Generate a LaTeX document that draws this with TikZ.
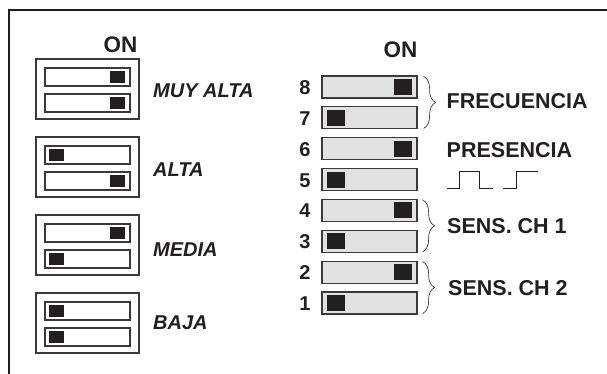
\documentclass[tikz,border=0pt]{standalone}
\usepackage{fontspec}
\setmainfont{Liberation Sans}
\usetikzlibrary{decorations.pathreplacing}
\definecolor{ink}{HTML}{231F20}
\definecolor{edgegray}{HTML}{3A3A3A}
\definecolor{slot}{HTML}{E2E2E2}
\begin{document}
\begin{tikzpicture}[x=1pt,y=-1pt,
  lbl/.style={font=\fontsize{21.5}{21.5}\selectfont\bfseries, text=ink, inner sep=0pt, anchor=base west},
  onlbl/.style={lbl, font=\fontsize{22.5}{22.5}\selectfont\bfseries, anchor=base},
  ilbl/.style={lbl, font=\fontsize{20}{20}\selectfont\bfseries\itshape},
  num/.style={font=\fontsize{20}{20}\selectfont\bfseries, text=ink, inner sep=0pt, anchor=base},
  lbox/.style={draw=edgegray, line width=1.2pt, fill=white, minimum width=103pt, minimum height=60pt, inner sep=0pt},
  lsw/.style={draw=edgegray, line width=1.2pt, fill=white, minimum width=85pt, minimum height=18pt, inner sep=0pt},
  lknob/.style={fill=ink, minimum width=15pt, minimum height=12pt, inner sep=0pt},
  rsw/.style={draw=edgegray, line width=1.2pt, fill=slot, minimum width=95pt, minimum height=22pt, inner sep=0pt},
  rknob/.style={fill=ink, minimum width=18pt, minimum height=16pt, inner sep=0pt},
  bracepath/.style={draw=ink, line width=0.6pt, decorate, decoration={brace, amplitude=12pt}},
]
\useasboundingbox (0,0) rectangle (607,374);
% frame
\draw[line width=2pt, ink] (9,374) -- (9,10) -- (607,10);

% left group
\node[onlbl] (onL) at (120.5,52.7) {ON};
\foreach \i/\yb/\ka/\kb/\txt/\tb in {1/59/R/R/MUY ALTA/97.3, 2/137/L/R/ALTA/176.7, 3/215/R/L/MEDIA/256, 4/293/L/L/BAJA/329}{
  \node[lbox] (b\i) at (87.5,\yb+30) {};
  \node[lsw] (s\i a) at (87.5,\yb+18) {};
  \node[lsw] (s\i b) at (87.5,\yb+44) {};
  \if\ka R \node[lknob] (k\i a) at (117.5,\yb+18) {};\else \node[lknob] (k\i a) at (56.5,\yb+18) {};\fi
  \if\kb R \node[lknob] (k\i b) at (117.5,\yb+44) {};\else \node[lknob] (k\i b) at (56.5,\yb+44) {};\fi
  \node[ilbl] (t\i) at (153,\tb) {\txt};
}

% right group
\node[onlbl] (onR) at (400.5,57.3) {ON};
\foreach \n/\y/\k in {8/87/R, 7/117.85/L, 6/148.7/R, 5/179.55/L, 4/210.4/R, 3/241.25/L, 2/272.1/R, 1/302.95/L}{
  \node[rsw] (r\n) at (369.5,\y) {};
  \if\k R \node[rknob] (q\n) at (403,\y) {};\else \node[rknob] (q\n) at (336,\y) {};\fi
  \node[num] (n\n) at (305,\y+7.5) {\n};
}

% braces
\draw[bracepath] ([xshift=6pt,yshift=-1pt]r8.north east) -- ([xshift=6pt,yshift=1pt]r7.south east);
\draw[bracepath] ([xshift=5pt,yshift=-1pt]r4.north east) -- ([xshift=5pt,yshift=1pt]r3.south east);
\draw[bracepath] ([xshift=5pt,yshift=-1pt]r2.north east) -- ([xshift=5pt,yshift=1pt]r1.south east);

\node[lbl] (frec) at (446.5,109) {FRECUENCIA};
\node[lbl] (pres) at (446.5,158) {PRESENCIA};
\node[lbl] (ch1) at (447,233.3) {SENS. CH 1};
\node[lbl] (ch2) at (448,295.7) {SENS. CH 2};

% pulse symbol
\draw[ink, line width=0.6pt] (446.7,188.3) -- (459.3,188.3) -- (459.3,171) -- (479.3,171) -- (479.3,188.3) -- (493.3,188.3);
\draw[ink, line width=0.6pt] (502.7,188.3) -- (516,188.3) -- (516,171) -- (538.3,171);
\end{tikzpicture}
\end{document}
